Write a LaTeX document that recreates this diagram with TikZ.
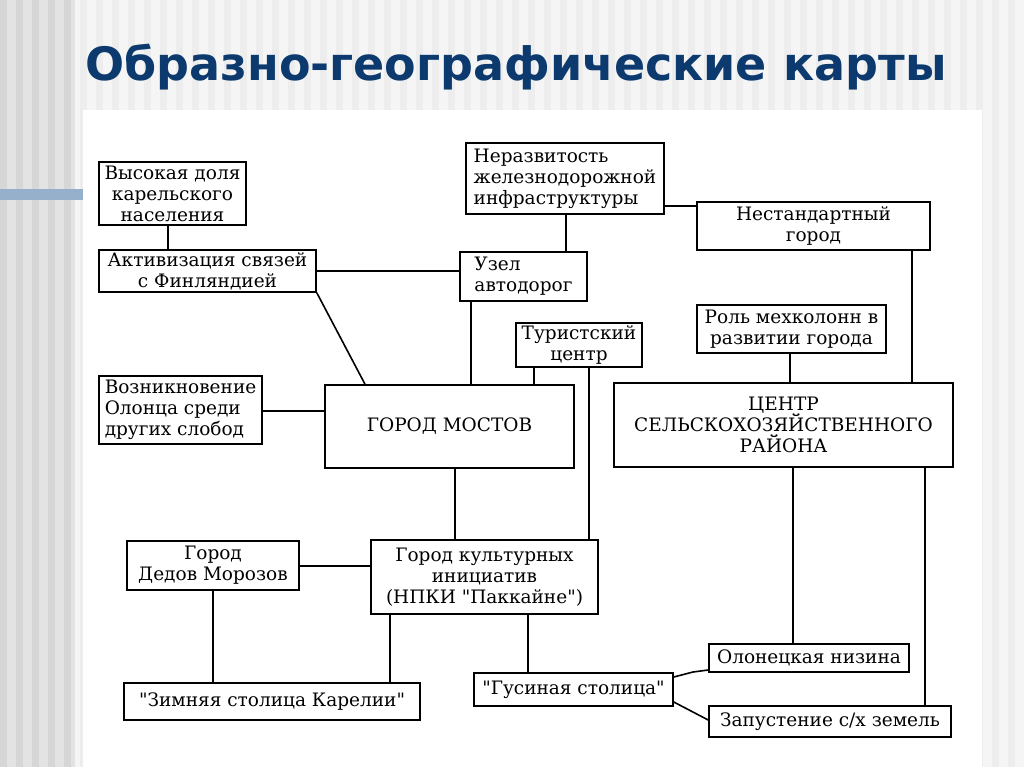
\documentclass[tikz,border=0pt]{standalone}
\usepackage{fontspec}
\setmainfont{DejaVu Serif}
\newfontfamily\plainserif{DejaVu Serif}
\newfontfamily\titlefont{DejaVu Sans}
\definecolor{titleblue}{RGB}{12,58,110}
\definecolor{barblue}{RGB}{150,175,202}
\newcommand{\qq}{{\plainserif"}}
\begin{document}
\begin{tikzpicture}[x=1pt,y=-1pt,
  bx/.style={draw,line width=1.6pt,inner sep=0pt,font=\fontsize{18.5}{21}\selectfont,align=center},
  ln/.style={line width=1.6pt}]
\useasboundingbox (0,0) rectangle (1024,767);
\fill[gray!8] (0,0) rectangle (1024,767);
\foreach \i in {0,...,63} {\fill[gray!14] (\i*16,0) rectangle (\i*16+7,767);}
\fill[gray!22] (0,0) rectangle (75,767);
\foreach \i in {0,...,4} {\fill[gray!32] (\i*16,0) rectangle (\i*16+7,767);}
\fill[white] (83,110) rectangle (982,767);
\fill[barblue] (0,189) rectangle (83,200);
\node[font=\titlefont\bfseries\fontsize{46}{50}\selectfont,text=titleblue] (title) at (516,67) {Образно-географические карты};
\def\B#1#2#3#4#5#6{\node[bx,minimum width=#4-#2,minimum height=#5-#3,#6] (#1) at ({(#2+#4)/2},{(#3+#5)/2})}
\B{vys}{99}{162}{246}{225}{}{Высокая доля\\карельского\\населения};
\B{akt}{99}{250}{316}{292}{}{Активизация связей\\с Финляндией};
\B{ner}{466}{143}{664}{214}{align=left}{Неразвитость\\железнодорожной\\инфраструктуры};
\B{uzel}{460}{252}{587}{301}{align=left}{Узел\\автодорог};
\B{nest}{697}{202}{930}{250}{}{Нестандартный\\город};
\B{tur}{516}{323}{642}{367}{}{Туристский\\центр};
\B{rol}{697}{305}{886}{353}{}{Роль мехколонн в\\развитии города};
\B{voz}{99}{376}{262}{444}{align=left}{Возникновение\\Олонца среди\\других слобод};
\B{most}{325}{385}{574}{468}{}{ГОРОД МОСТОВ};
\B{centr}{614}{383}{953}{467}{}{ЦЕНТР\\СЕЛЬСКОХОЗЯЙСТВЕННОГО\\РАЙОНА};
\B{ded}{127}{541}{299}{590}{}{Город\\Дедов Морозов};
\B{kult}{371}{540}{598}{614}{}{Город культурных\\инициатив\\(НПКИ \qq Паккайне\qq)};
\B{zim}{124}{683}{420}{720}{}{\qq Зимняя столица Карелии\qq};
\B{gus}{474}{673}{673}{706}{}{\qq Гусиная столица\qq};
\B{olon}{709}{644}{909}{672}{}{Олонецкая низина};
\B{zap}{709}{706}{951}{737}{}{Запустение с/х земель};
\draw[ln] (vys.south -| 168,0) -- (akt.north -| 168,0);
\draw[ln] (akt.east |- 0,271) -- (uzel.west |- 0,271);
\draw[ln] (ner.south -| 566,0) -- (uzel.north -| 566,0);
\draw[ln] (ner.east |- 0,206) -- (nest.west |- 0,206);
\draw[ln] (akt.south east) -- (most.north -| 365,0);
\draw[ln] (uzel.south -| 471,0) -- (most.north -| 471,0);
\draw[ln] (tur.south -| 534,0) -- (most.north -| 534,0);
\draw[ln] (tur.south -| 589,0) -- (kult.north -| 589,0);
\draw[ln] (voz.east |- 0,411) -- (most.west |- 0,411);
\draw[ln] (most.south -| 455,0) -- (kult.north -| 455,0);
\draw[ln] (rol.south -| 790,0) -- (centr.north -| 790,0);
\draw[ln] (nest.south -| 912,0) -- (centr.north -| 912,0);
\draw[ln] (centr.south -| 793,0) -- (olon.north -| 793,0);
\draw[ln] (centr.south -| 925,0) -- (zap.north -| 925,0);
\draw[ln] (ded.east |- 0,566) -- (kult.west |- 0,566);
\draw[ln] (ded.south -| 213,0) -- (zim.north -| 213,0);
\draw[ln] (kult.south -| 390,0) -- (zim.north -| 390,0);
\draw[ln] (kult.south -| 528,0) -- (gus.north -| 528,0);
\draw[ln] (gus.east |- 0,677) -- (693,672) -- (olon.west |- 0,670);
\draw[ln] (gus.east |- 0,702) -- (zap.west |- 0,720);
\end{tikzpicture}
\end{document}
